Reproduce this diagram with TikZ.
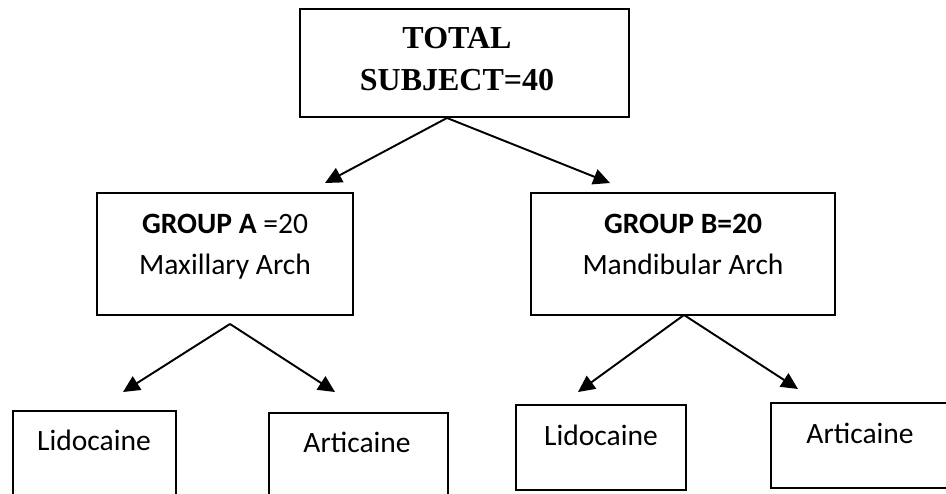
\documentclass[tikz,border=0pt]{standalone}
\usepackage{fontspec}
\setmainfont{Carlito}
\newfontfamily\timesfont{Liberation Serif}
\usetikzlibrary{calc,arrows.meta}

\tikzset{
  caja/.style={draw, line width=1.1pt, inner sep=0pt},
  flecha/.style={line width=1.1pt, -{Triangle[length=9.5pt,width=9pt]}},
  texto/.style={inner sep=0pt, align=center, font=\fontsize{16.8}{23.2}\selectfont},
  titulo/.style={inner sep=0pt, align=center, font=\timesfont\bfseries\fontsize{18.2}{24}\selectfont}
}

\begin{document}
\begin{tikzpicture}
  % Marco
  \useasboundingbox (0,0) rectangle (18.92,-9.86);
  \clip (0,0) rectangle (18.92,-9.86);

  % Cajas
  \node[caja, minimum width=6.58cm, minimum height=2.16cm] (total)  at (9.29,-1.26)  {};
  \node[caja, minimum width=5.12cm, minimum height=2.44cm] (grupoA) at (4.50,-5.08)  {};
  \node[caja, minimum width=6.08cm, minimum height=2.44cm] (grupoB) at (13.66,-5.08) {};
  \node[caja, minimum width=3.26cm, minimum height=2.00cm] (lidoA)  at (1.89,-9.22)  {};
  \node[caja, minimum width=3.58cm, minimum height=2.00cm] (artiA)  at (7.17,-9.26)  {};
  \node[caja, minimum width=3.40cm, minimum height=1.70cm] (lidoB)  at (12.02,-8.95) {};
  \node[caja, minimum width=3.56cm, minimum height=1.70cm] (artiB)  at (17.20,-8.91) {};

  % Textos
  \node[titulo, anchor=north] (totaltxt) at ($(total.north)+(-0.15,-0.38)$) {TOTAL\\SUBJECT=40};
  \node[texto, anchor=north] (grupoAtxt) at ($(grupoA.north)+(0,-0.44)$) {\textbf{GROUP A} =20\\Maxillary Arch};
  \node[texto, anchor=north] (grupoBtxt) at ($(grupoB.north)+(0,-0.44)$) {\textbf{GROUP B=20}\\Mandibular Arch};
  \node[texto, anchor=base] (lidoAtxt) at (1.88,-9.00)  {Lidocaine};
  \node[texto, anchor=base] (artiAtxt) at (7.14,-9.04)  {Articaine};
  \node[texto, anchor=base] (lidoBtxt) at (12.02,-8.90) {Lidocaine};
  \node[texto, anchor=base] (artiBtxt) at (17.20,-8.86) {Articaine};

  % Puntos de las flechas
  \coordinate (t0) at ($(total.south)+(-0.35,0)$);
  \coordinate (a0) at ($(grupoA.south)+(0.10,-0.16)$);
  \coordinate (b0) at ($(grupoB.south)+(0.02,0.02)$);
  \coordinate (t1) at (6.50,-3.66);
  \coordinate (t2) at (12.20,-3.66);
  \coordinate (a1) at (2.46,-7.84);
  \coordinate (a2) at (6.70,-7.84);
  \coordinate (b1) at (11.56,-7.84);
  \coordinate (b2) at (15.96,-7.78);

  % Flechas
  \foreach \ini/\fin in {t0/t1, t0/t2, a0/a1, a0/a2, b0/b1, b0/b2}
    \draw[flecha] (\ini) -- (\fin);
\end{tikzpicture}
\end{document}
